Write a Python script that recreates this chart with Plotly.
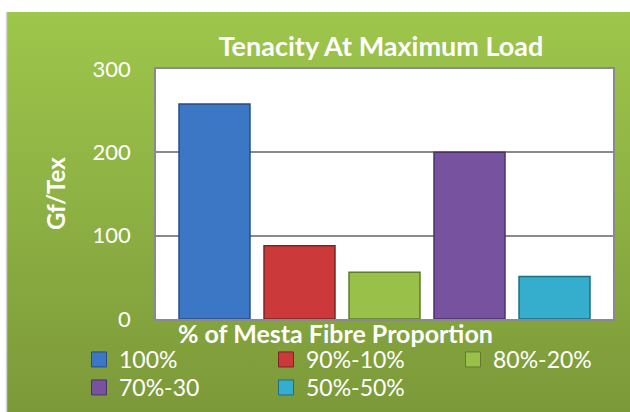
import base64
import plotly.graph_objects as go

# Tenacity at maximum load for each mesta fibre blend
blends = ["100%", "90%-10%", "80%-20%", "70%-30", "50%-50%"]
tenacity = [258, 88, 56, 200, 51]
bar_colors = ["#3b77c4", "#cb393b", "#99c149", "#77529f", "#35adcc"]
edge_colors = ["#264e80", "#7a2425", "#5f7b2b", "#4a3168", "#1f6d82"]
legend_rows = ["legend", "legend", "legend", "legend2", "legend2"]
y_ticks = [0, 100, 200, 300]

W, H = 630, 412
MR = 17
PW, PH = W - MR, H
PLOT_L, PLOT_R, PLOT_T, PLOT_B = 156, 613, 69, 319
FONT = "Lato"


def paper_x(px):
    return px / PW


def paper_y(py):
    return (PH - py) / PH


# green gradient panel behind the chart
panel_w, panel_h = 624, 400
svg = (
    f'<svg xmlns="http://www.w3.org/2000/svg" width="{panel_w}" height="{panel_h}" '
    f'viewBox="0 0 {panel_w} {panel_h}" preserveAspectRatio="none">'
    '<defs><linearGradient id="g" x1="0" y1="0" x2="0" y2="1">'
    '<stop offset="0" stop-color="#9ec64b"/>'
    '<stop offset="0.5" stop-color="#8db043"/>'
    '<stop offset="1" stop-color="#7c9939"/>'
    '</linearGradient></defs>'
    f'<rect width="{panel_w}" height="{panel_h}" fill="url(#g)"/></svg>'
)
panel_src = "data:image/svg+xml;base64," + base64.b64encode(svg.encode()).decode()

fig = go.Figure()
for name, val, col, edge in zip(blends, tenacity, bar_colors, edge_colors):
    fig.add_trace(go.Bar(
        x=["Tenacity"], y=[val], name=name,
        marker=dict(color=col, line=dict(color=edge, width=1.5)),
        showlegend=False,
        hoverinfo="name+y",
    ))

# legend keys: square swatches laid out in two rows
for name, col, edge, row in zip(blends, bar_colors, edge_colors, legend_rows):
    fig.add_trace(go.Scatter(
        x=[None], y=[None], mode="markers", name=name,
        marker=dict(symbol="square", size=15, color=col,
                    line=dict(color=edge, width=1)),
        legend=row, legendwidth=142,
    ))

legend_common = dict(
    orientation="h",
    xanchor="left", yanchor="top",
    font=dict(family=FONT, size=23, color="white"),
    bgcolor="rgba(0,0,0,0)",
    itemsizing="trace",
    itemclick=False, itemdoubleclick=False,
)

fig.update_layout(
    width=W, height=H,
    margin=dict(l=0, r=MR, t=0, b=0, autoexpand=False),
    paper_bgcolor="white",
    plot_bgcolor="rgba(0,0,0,0)",
    barmode="group",
    bargap=0.07,
    bargroupgap=0.165,
    font=dict(family=FONT, color="white"),
    title=dict(
        text="<b>Tenacity At Maximum Load</b>",
        font=dict(family=FONT, size=27, color="white"),
        x=paper_x(381), xref="paper", xanchor="center",
        y=1 - 47 / H, yref="container", yanchor="middle",
    ),
    xaxis=dict(
        domain=[paper_x(PLOT_L), paper_x(PLOT_R)],
        range=[-0.5, 0.5],
        showticklabels=False, ticks="",
        showgrid=False,
        showline=True, mirror=True, linecolor="#8a8a8a", linewidth=1.5,
        zeroline=False,
    ),
    yaxis=dict(
        domain=[paper_y(PLOT_B), paper_y(PLOT_T)],
        range=[0, 300],
        tickvals=y_ticks,
        ticks="",
        ticklabelstandoff=19,
        tickfont=dict(family=FONT, size=22, color="white"),
        showgrid=True, gridcolor="#8a8a8a", gridwidth=1.5,
        showline=True, mirror=True, linecolor="#8a8a8a", linewidth=1.5,
        zeroline=False,
    ),
    legend=dict(legend_common, x=paper_x(79), y=paper_y(338)),
    legend2=dict(legend_common, x=paper_x(79), y=paper_y(366)),
    images=[dict(
        source=panel_src,
        xref="paper", yref="paper",
        x=paper_x(7), y=paper_y(12),
        sizex=panel_w / PW, sizey=panel_h / PH,
        xanchor="left", yanchor="top",
        sizing="stretch", layer="below",
    )],
    annotations=[
        dict(
            text="<b>% of Mesta Fibre Proportion</b>",
            xref="paper", yref="paper",
            x=paper_x(335), y=paper_y(333),
            xanchor="center", yanchor="middle",
            showarrow=False,
            font=dict(family=FONT, size=25, color="white"),
        ),
        dict(
            text="<b>Gf/Tex</b>",
            xref="paper", yref="paper",
            x=paper_x(55), y=paper_y(194),
            xanchor="center", yanchor="middle",
            textangle=-90,
            showarrow=False,
            font=dict(family=FONT, size=24, color="white"),
        ),
    ],
    shapes=[
        # white plot area on top of the green panel
        dict(
            type="rect", xref="paper", yref="paper", layer="below",
            x0=paper_x(PLOT_L), x1=paper_x(PLOT_R),
            y0=paper_y(PLOT_B), y1=paper_y(PLOT_T),
            fillcolor="white", line=dict(width=0),
        ),
        dict(
            type="line", xref="paper", yref="paper",
            x0=paper_x(6.5), x1=paper_x(6.5), y0=paper_y(12), y1=paper_y(412),
            line=dict(color="#d4d4d4", width=1.5),
        ),
    ],
)

fig.write_html("out.html")
